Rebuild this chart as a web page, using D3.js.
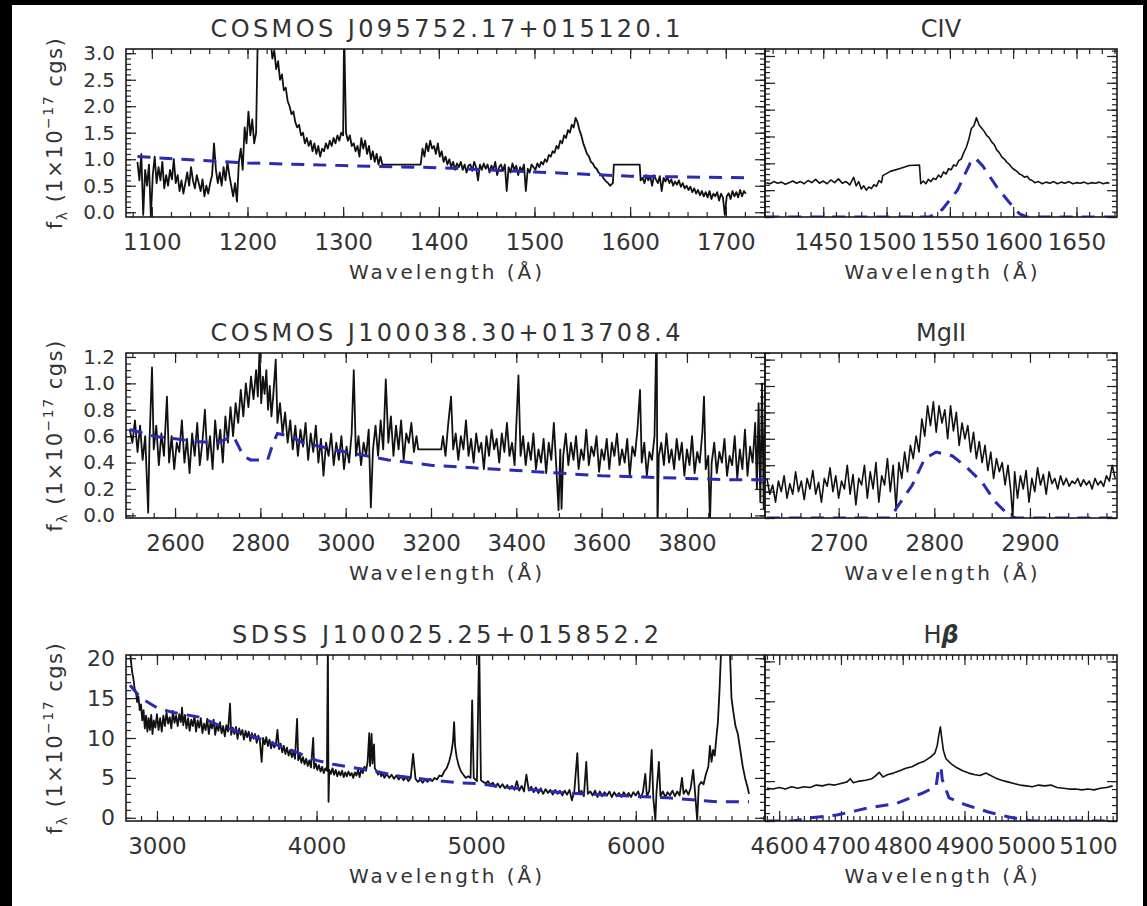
<!DOCTYPE html>
<html>
<head>
<meta charset="utf-8">
<script src="https://cdn.jsdelivr.net/npm/d3@7"></script>
<style>
  body { margin: 0; background: #000; }
  svg text { font-family: "DejaVu Sans", sans-serif; fill: #333; }
</style>
</head>
<body>
<div id="chart"></div>
<script>
// ---- data (wavelength in Å, flux in 1e-17 cgs) ----

// row 1: COSMOS J095752.17+015120.1, full spectrum
const civWideSpec = [
  [1085,0.95],[1087,0.6],[1089,1.1],[1091,-0.05],[1093,0.8],[1095,0.5],[1097,0.9],[1099,-0.08],[1101,0.7],[1103,1.05],
  [1105,0.55],[1107,0.85],[1109,0.6],[1111,0.95],[1113,0.45],[1115,0.7],[1117,0.5],[1119,0.8],[1121,0.62],[1123,1.0],
  [1125,0.55],[1127,0.7],[1129,0.4],[1131,0.6],[1133,0.35],[1135,0.55],[1137,0.75],[1139,0.5],[1141,0.85],[1143,0.6],
  [1145,0.45],[1147,0.7],[1149,0.55],[1151,0.4],[1153,0.62],[1155,0.3],[1157,0.5],[1159,0.35],[1161,0.55],[1163,0.7],
  [1165,1.3],[1167,0.8],[1169,0.55],[1171,0.75],[1173,0.5],[1175,0.85],[1177,0.6],[1179,0.95],[1181,0.7],[1183,0.5],
  [1185,0.3],[1187,0.55],[1189,0.2],[1191,0.95],[1193,1.2],[1195,0.8],[1197,1.6],[1199,1.3],[1201,1.9],[1203,1.45],
  [1205,1.75],[1207,1.3],[1209,1.5],[1211,3.6],[1215,4.0],[1220,3.8],[1224,3.3],[1226,2.9],[1228,3.05],[1230,2.7],
  [1232,2.85],[1234,2.5],[1236,2.6],[1238,2.3],[1240,2.35],[1242,2.1],[1244,2.0],[1246,1.85],[1248,1.9],[1250,1.7],
  [1252,1.6],[1254,1.65],[1256,1.45],[1258,1.5],[1260,1.3],[1262,1.4],[1264,1.25],[1266,1.35],[1268,1.15],[1270,1.3],
  [1272,1.1],[1274,1.25],[1276,1.05],[1278,1.2],[1280,1.15],[1282,1.3],[1284,1.2],[1286,1.35],[1288,1.25],[1290,1.4],
  [1292,1.3],[1294,1.45],[1296,1.35],[1298,1.5],[1300,1.45],[1301,3.5],[1303,1.5],[1305,1.35],[1307,1.45],[1309,1.25],
  [1311,1.3],[1313,1.15],[1315,1.25],[1317,1.05],[1319,1.4],[1321,1.2],[1323,1.35],[1325,1.1],[1327,1.25],[1329,1.0],
  [1331,1.15],[1333,0.95],[1335,1.1],[1337,0.9],[1339,1.05],[1341,0.9],[1381,0.9],[1383,1.2],[1385,1.05],[1387,1.3],
  [1389,1.15],[1391,1.35],[1393,1.2],[1395,1.25],[1397,1.1],[1399,1.3],[1401,1.05],[1403,1.15],[1405,0.95],[1407,1.05],
  [1409,0.9],[1411,1.0],[1413,0.85],[1415,0.95],[1417,0.8],[1419,0.92],[1421,0.85],[1423,0.95],[1425,0.8],[1427,0.9],
  [1429,0.75],[1431,0.88],[1433,0.9],[1435,0.78],[1437,0.95],[1439,0.85],[1441,0.6],[1443,0.9],[1445,0.8],[1447,0.92],
  [1449,0.82],[1451,0.9],[1453,0.75],[1455,0.88],[1457,0.8],[1459,0.95],[1461,0.7],[1463,0.85],[1465,0.9],[1467,0.78],
  [1469,0.9],[1471,0.4],[1473,0.85],[1475,0.75],[1477,0.92],[1479,0.8],[1481,0.88],[1483,0.7],[1485,0.85],[1487,0.78],
  [1489,0.9],[1491,0.4],[1493,0.82],[1495,0.75],[1497,0.9],[1499,0.85],[1501,0.8],[1503,0.92],[1505,0.85],[1507,0.95],
  [1509,0.9],[1511,1.0],[1513,0.95],[1515,1.08],[1517,1.05],[1519,1.15],[1521,1.12],[1523,1.25],[1525,1.2],[1527,1.35],
  [1529,1.3],[1531,1.45],[1533,1.4],[1535,1.55],[1537,1.5],[1539,1.65],[1541,1.6],[1543,1.78],[1545,1.7],[1547,1.55],
  [1549,1.45],[1551,1.3],[1553,1.2],[1555,1.1],[1557,1.05],[1559,0.95],[1561,0.92],[1563,0.85],[1565,0.82],[1567,0.75],
  [1569,0.72],[1571,0.68],[1573,0.62],[1575,0.58],[1577,0.55],[1579,0.5],[1582,0.55],[1583,0.9],[1610,0.9],[1611,0.6],
  [1613,0.65],[1615,0.55],[1617,0.7],[1619,0.6],[1621,0.68],[1623,0.5],[1625,0.7],[1627,0.62],[1629,0.55],[1631,0.68],
  [1633,0.4],[1635,0.65],[1637,0.58],[1639,0.66],[1641,0.55],[1643,0.62],[1645,0.5],[1647,0.58],[1649,0.52],[1651,0.6],
  [1653,0.48],[1655,0.55],[1657,0.45],[1659,0.5],[1661,0.42],[1663,0.48],[1665,0.38],[1667,0.45],[1669,0.35],[1671,0.42],
  [1673,0.32],[1675,0.4],[1677,0.3],[1679,0.38],[1681,0.28],[1683,0.4],[1685,0.25],[1687,0.35],[1689,0.3],[1691,0.38],
  [1693,0.22],[1695,0.35],[1697,0.28],[1699,-0.05],[1701,0.3],[1703,0.36],[1705,0.25],[1707,0.4],[1709,0.3],[1711,0.38],
  [1713,0.28],[1715,0.42],[1717,0.3],[1719,0.4],[1721,0.35]
];
const civWideCont = [
  [1085,1.05],[1150,0.98],[1200,0.93],[1300,0.88],[1400,0.84],[1500,0.76],[1600,0.68],[1720,0.65]
];

// row 1 zoom: CIV
const civLineSpec = [
  [1405,0.64],[1408,0.62],[1411,0.66],[1414,0.63],[1417,0.65],[1420,0.61],[1423,0.64],[1426,0.67],[1429,0.63],[1432,0.66],
  [1435,0.62],[1438,0.68],[1441,0.64],[1444,0.7],[1447,0.63],[1450,0.67],[1453,0.62],[1456,0.69],[1459,0.64],[1462,0.71],
  [1465,0.63],[1468,0.66],[1471,0.6],[1474,0.74],[1476,0.58],[1478,0.66],[1480,0.52],[1482,0.58],[1484,0.5],[1486,0.56],
  [1488,0.53],[1490,0.6],[1492,0.57],[1494,0.68],[1496,0.64],[1497,0.77],[1503,0.85],[1510,0.9],[1518,0.96],[1526,0.97],
  [1527,0.62],[1529,0.67],[1531,0.62],[1533,0.7],[1535,0.66],[1537,0.72],[1539,0.7],[1541,0.78],[1543,0.74],[1545,0.84],
  [1547,0.8],[1549,0.9],[1551,0.88],[1553,0.97],[1555,0.95],[1557,1.05],[1559,1.08],[1561,1.2],[1563,1.3],[1565,1.45],
  [1567,1.65],[1569,1.7],[1571,1.85],[1573,1.72],[1575,1.66],[1577,1.6],[1579,1.52],[1581,1.48],[1583,1.4],[1585,1.35],
  [1587,1.25],[1589,1.2],[1591,1.12],[1593,1.08],[1595,1.02],[1597,0.98],[1599,0.92],[1601,0.88],[1603,0.85],[1605,0.8],
  [1607,0.78],[1609,0.74],[1611,0.76],[1613,0.7],[1615,0.68],[1617,0.64],[1620,0.66],[1623,0.62],[1626,0.65],[1629,0.63],
  [1632,0.66],[1635,0.62],[1638,0.65],[1641,0.63],[1644,0.66],[1647,0.62],[1650,0.64],[1653,0.63],[1656,0.65],[1659,0.62],
  [1662,0.64],[1665,0.63],[1668,0.65],[1671,0.62],[1674,0.64],[1676,0.63]
];
const civLineComp = [
  [1405,0],[1534,0],[1544,0.14],[1556,0.5],[1566,1.0],[1570,1.1],[1576,0.95],[1587,0.56],[1597,0.27],[1605,0.06],[1611,0],[1680,0]
];

// row 2: COSMOS J100038.30+013708.4, full spectrum
const mgWideSpec = [
  [2494,0.65],[2500,0.55],[2506,0.72],[2512,0.48],[2518,0.68],[2524,0.42],[2530,0.6],[2537,0.02],[2540,0.55],[2546,1.12],
  [2550,0.5],[2556,0.68],[2562,0.38],[2568,0.62],[2574,0.45],[2581,0.9],[2586,0.4],[2592,0.6],[2598,0.35],[2604,0.55],
  [2610,0.48],[2616,0.72],[2622,0.4],[2628,0.58],[2634,0.32],[2640,0.62],[2646,0.45],[2652,0.7],[2658,0.38],[2664,0.55],
  [2670,0.8],[2676,0.42],[2682,0.6],[2688,0.35],[2694,0.72],[2700,0.5],[2706,0.65],[2712,0.4],[2718,0.75],[2724,0.55],
  [2730,0.82],[2736,0.6],[2742,0.85],[2748,0.7],[2754,0.95],[2760,0.75],[2766,1.0],[2772,0.82],[2778,1.05],[2784,0.88],
  [2790,1.1],[2794,0.9],[2798,1.25],[2802,0.85],[2806,1.05],[2810,0.92],[2814,1.1],[2818,0.8],[2822,0.98],[2826,0.75],
  [2830,0.9],[2836,1.18],[2840,0.7],[2846,0.85],[2852,0.62],[2858,0.78],[2864,0.55],[2870,0.72],[2876,0.5],[2882,0.68],
  [2888,0.45],[2894,0.65],[2900,0.52],[2906,0.7],[2912,0.42],[2918,0.62],[2924,0.48],[2930,0.68],[2936,0.4],[2942,0.58],
  [2948,0.3],[2954,0.55],[2960,0.45],[2966,0.62],[2972,0.38],[2978,0.55],[2984,0.42],[2990,0.6],[2996,0.35],[3002,0.52],
  [3008,0.4],[3014,0.62],[3019,1.1],[3024,0.45],[3030,0.6],[3036,0.38],[3042,0.55],[3048,0.45],[3054,0.65],[3059,0.06],
  [3064,0.5],[3070,0.68],[3076,0.45],[3082,0.72],[3088,0.5],[3094,1.03],[3100,0.55],[3106,0.75],[3112,0.45],[3118,0.68],
  [3124,0.5],[3130,0.72],[3136,0.42],[3142,0.62],[3148,0.55],[3154,0.7],[3160,0.48],[3166,0.6],[3170,0.5],[3224,0.5],
  [3228,0.6],[3234,0.45],[3240,0.68],[3247,0.9],[3252,0.5],[3258,0.62],[3264,0.42],[3270,0.6],[3276,0.5],[3282,0.72],
  [3288,0.45],[3294,0.58],[3300,0.4],[3306,0.62],[3312,0.48],[3318,0.55],[3324,0.35],[3330,0.6],[3336,0.45],[3342,0.65],
  [3348,0.5],[3354,0.58],[3360,0.4],[3366,0.62],[3372,0.48],[3378,0.7],[3384,0.45],[3390,0.55],[3396,0.38],[3405,1.06],
  [3410,0.45],[3416,0.6],[3422,0.38],[3428,0.55],[3434,0.42],[3440,0.62],[3446,0.35],[3452,0.5],[3458,0.4],[3464,0.58],
  [3470,0.32],[3476,0.55],[3482,0.42],[3488,0.7],[3494,0.35],[3499,0.04],[3503,0.5],[3506,0.05],[3510,0.45],[3516,0.62],
  [3522,0.38],[3528,0.55],[3534,0.42],[3540,0.6],[3546,0.35],[3552,0.5],[3558,0.42],[3564,0.65],[3570,0.38],[3576,0.52],
  [3582,0.45],[3588,0.6],[3594,0.33],[3600,0.5],[3606,0.42],[3612,0.58],[3618,0.35],[3624,0.55],[3630,0.45],[3636,0.62],
  [3642,0.38],[3648,0.5],[3654,0.4],[3660,0.58],[3666,0.3],[3672,0.52],[3678,0.45],[3684,0.65],[3690,0.95],[3694,0.4],
  [3700,0.55],[3706,0.3],[3712,0.48],[3718,0.42],[3724,0.6],[3729,1.5],[3731,-0.1],[3734,0.45],[3740,0.55],[3746,0.38],
  [3752,0.62],[3758,0.4],[3764,0.5],[3770,0.35],[3776,0.58],[3782,0.42],[3788,0.55],[3794,0.3],[3800,0.5],[3806,0.38],
  [3812,0.6],[3818,0.32],[3824,0.48],[3830,0.4],[3836,0.62],[3840,0.9],[3844,0.35],[3850,0.45],[3854,-0.05],[3858,0.4],
  [3864,0.55],[3870,0.32],[3876,0.48],[3882,0.4],[3888,0.58],[3894,0.3],[3900,0.45],[3906,0.38],[3912,0.6],[3918,0.28],
  [3924,0.5],[3930,0.35],[3936,0.65],[3942,0.3],[3948,0.52],[3954,0.4],[3960,0.7],[3964,0.2],[3968,0.85],[3972,0.1],
  [3976,1.0],[3980,0.05],[3984,1.1]
];
const mgWideCont = [
  [2494,0.65],[2550,0.6],[2600,0.58],[2650,0.56],[2700,0.55],[2737,0.6],[2760,0.45],[2777,0.42],[2817,0.42],[2830,0.55],
  [2840,0.62],[2870,0.6],[2900,0.55],[3000,0.48],[3100,0.42],[3200,0.38],[3300,0.36],[3400,0.34],[3500,0.32],[3600,0.3],
  [3700,0.29],[3800,0.28],[3900,0.27],[3984,0.27]
];

// row 2 zoom: MgII
const mgLineSpec = [
  [2625,0.3],[2628,0.18],[2631,0.25],[2634,0.12],[2637,0.28],[2640,0.2],[2643,0.32],[2646,0.15],[2649,0.26],[2652,0.18],
  [2655,0.35],[2658,0.2],[2661,0.28],[2664,0.14],[2667,0.3],[2670,0.22],[2673,0.36],[2676,0.18],[2679,0.27],[2682,0.12],
  [2685,0.3],[2688,0.24],[2691,0.38],[2694,0.2],[2697,0.32],[2700,0.15],[2703,0.28],[2706,0.22],[2709,0.4],[2712,0.18],
  [2715,0.33],[2718,0.1],[2721,0.3],[2724,0.25],[2727,0.4],[2730,0.15],[2733,0.35],[2736,0.22],[2739,0.42],[2742,0.12],
  [2745,0.32],[2748,0.25],[2751,0.45],[2754,0.2],[2757,0.4],[2760,0.08],[2763,0.42],[2766,0.3],[2769,0.5],[2772,0.35],
  [2775,0.55],[2778,0.45],[2781,0.62],[2784,0.5],[2787,0.75],[2790,0.62],[2793,0.85],[2796,0.7],[2799,0.88],[2802,0.65],
  [2805,0.85],[2808,0.72],[2811,0.82],[2814,0.6],[2817,0.85],[2820,0.66],[2823,0.8],[2826,0.55],[2829,0.72],[2832,0.6],
  [2835,0.7],[2838,0.5],[2841,0.65],[2844,0.45],[2847,0.58],[2850,0.42],[2853,0.55],[2856,0.36],[2859,0.5],[2862,0.3],
  [2865,0.45],[2868,0.35],[2871,0.42],[2874,0.25],[2877,0.4],[2880,0.2],[2882,0.0],[2884,0.35],[2887,0.15],[2890,0.32],
  [2893,0.22],[2896,0.36],[2899,0.12],[2902,0.3],[2905,0.2],[2908,0.38],[2911,0.25],[2914,0.33],[2917,0.18],[2920,0.35],
  [2923,0.26],[2926,0.3],[2929,0.22],[2932,0.32],[2935,0.25],[2938,0.3],[2941,0.24],[2944,0.28],[2947,0.26],[2950,0.3],
  [2953,0.24],[2956,0.29],[2959,0.25],[2962,0.28],[2965,0.22],[2968,0.3],[2971,0.25],[2974,0.28],[2977,0.24],[2980,0.32],
  [2983,0.28],[2986,0.4],[2989,0.3]
];
const mgLineComp = [
  [2625,0],[2755,0],[2760,0.07],[2777,0.25],[2790,0.45],[2802,0.5],[2819,0.47],[2833,0.39],[2850,0.27],[2864,0.12],
  [2878,0.02],[2885,0],[2990,0]
];

// row 3: SDSS J100025.25+015852.2, full spectrum
const hbWideSpec = [
  [2831,21],[2838,19.5],[2845,18.2],[2852,17.5],[2860,16.2],[2868,15.8],[2876,14.5],[2884,15.2],[2892,13.5],[2900,14.2],
  [2908,12.2],[2916,13.5],[2924,11.2],[2932,12.8],[2940,10.8],[2948,12.5],[2956,11.0],[2964,12.9],[2972,10.5],[2980,12.2],
  [2990,11.3],[3000,13.0],[3010,11.0],[3020,12.5],[3030,10.8],[3040,12.8],[3050,11.5],[3060,13.2],[3070,11.8],[3080,12.6],
  [3090,11.2],[3100,13.4],[3110,11.9],[3120,12.8],[3130,11.5],[3140,13.0],[3150,12.0],[3157,13.8],[3165,11.6],[3175,12.9],
  [3185,11.2],[3195,12.5],[3205,10.9],[3215,12.3],[3225,11.5],[3235,12.8],[3245,10.8],[3255,12.2],[3265,11.3],[3275,12.5],
  [3285,10.6],[3295,11.8],[3305,11.0],[3315,12.4],[3325,10.5],[3335,11.9],[3345,11.2],[3355,12.3],[3365,10.4],[3375,11.7],
  [3385,10.9],[3395,12.0],[3405,10.6],[3415,11.5],[3425,10.2],[3435,11.6],[3445,10.8],[3458,14.3],[3465,10.4],[3475,11.3],
  [3485,10.5],[3495,11.4],[3505,9.9],[3515,11.2],[3525,10.4],[3535,11.0],[3545,9.8],[3555,10.9],[3565,10.1],[3575,10.8],
  [3585,9.6],[3595,10.6],[3605,9.9],[3615,10.5],[3625,9.4],[3635,10.3],[3645,9.6],[3656,7.0],[3665,10.0],[3675,9.2],
  [3685,10.1],[3695,9.0],[3705,9.8],[3715,8.7],[3725,9.5],[3735,8.8],[3745,9.2],[3755,11.0],[3765,8.6],[3775,9.3],
  [3785,8.2],[3795,9.0],[3805,8.0],[3815,8.8],[3825,7.8],[3835,8.5],[3845,7.6],[3855,8.3],[3865,7.4],[3878,12.4],
  [3885,7.2],[3895,7.9],[3905,6.9],[3915,7.6],[3925,6.7],[3935,7.4],[3945,6.5],[3955,7.2],[3965,6.3],[3979,10.0],
  [3985,6.2],[3995,6.8],[4005,6.0],[4015,6.6],[4025,5.8],[4035,6.4],[4045,5.6],[4055,6.2],[4065,5.9],[4071,22],
  [4075,2.0],[4080,6.0],[4090,5.5],[4100,6.2],[4110,5.4],[4120,6.0],[4130,5.2],[4140,5.8],[4150,5.3],[4160,5.9],
  [4170,5.1],[4180,5.7],[4190,5.2],[4200,5.8],[4210,5.3],[4220,5.6],[4230,5.0],[4240,5.7],[4250,5.3],[4260,6.0],
  [4270,5.1],[4280,6.1],[4290,5.6],[4300,6.4],[4310,5.9],[4320,7.0],[4330,10.6],[4335,6.5],[4345,10.5],[4350,6.8],
  [4360,9.2],[4365,6.2],[4375,5.9],[4385,5.4],[4395,5.8],[4405,5.2],[4415,5.6],[4425,5.0],[4440,5.5],[4455,5.0],
  [4470,5.4],[4485,4.9],[4500,5.3],[4515,4.8],[4530,5.2],[4545,4.7],[4560,5.1],[4575,4.6],[4590,5.0],[4605,8.0],
  [4620,4.9],[4635,4.5],[4650,4.8],[4665,4.4],[4680,4.8],[4695,4.5],[4710,4.9],[4725,4.6],[4740,5.0],[4755,4.8],
  [4770,5.3],[4785,5.2],[4800,5.8],[4815,6.2],[4830,7.0],[4845,8.2],[4855,9.6],[4862,12.0],[4868,9.0],[4878,7.6],
  [4890,6.6],[4905,5.8],[4920,5.4],[4935,5.0],[4950,5.2],[4965,5.0],[4975,14.7],[4985,5.0],[4995,4.8],[5005,4.6],
  [5019,22],[5030,4.7],[5045,4.5],[5060,4.3],[5075,4.6],[5090,4.1],[5105,4.4],[5120,3.9],[5135,4.3],[5150,3.8],
  [5165,4.2],[5180,3.7],[5195,4.1],[5210,3.6],[5225,4.0],[5240,3.5],[5255,4.6],[5270,3.4],[5285,4.0],[5300,3.3],
  [5315,5.4],[5330,3.4],[5345,3.9],[5360,3.2],[5375,3.8],[5390,3.1],[5405,3.7],[5420,3.0],[5435,3.6],[5450,3.1],
  [5465,3.5],[5480,2.9],[5495,3.5],[5510,3.0],[5525,3.4],[5540,2.8],[5555,3.4],[5570,2.9],[5585,3.5],[5600,2.2],
  [5615,3.3],[5634,8.1],[5645,3.0],[5660,3.4],[5675,2.7],[5690,7.0],[5700,3.0],[5716,3.3],[5730,2.8],[5745,3.4],
  [5760,2.6],[5775,3.3],[5790,2.7],[5805,3.2],[5820,2.8],[5835,3.3],[5850,2.6],[5865,3.2],[5880,2.7],[5895,3.1],
  [5910,2.6],[5925,3.2],[5940,2.7],[5955,3.1],[5970,2.6],[5985,3.2],[6000,2.8],[6015,3.3],[6030,2.5],[6045,3.2],
  [6060,5.5],[6070,2.6],[6085,3.4],[6100,8.5],[6110,2.5],[6123,-0.3],[6130,3.2],[6145,7.0],[6155,2.7],[6170,3.3],
  [6185,2.6],[6200,3.2],[6215,2.8],[6230,3.4],[6245,2.7],[6260,3.3],[6275,2.8],[6290,5.0],[6300,3.0],[6315,3.5],
  [6330,2.9],[6345,3.8],[6360,6.0],[6370,3.6],[6385,-0.3],[6395,4.0],[6410,4.5],[6425,4.2],[6440,5.5],[6455,6.4],
  [6465,9.0],[6475,7.0],[6485,8.5],[6495,7.8],[6505,10.0],[6515,12.0],[6525,16.0],[6535,21],[6550,23],[6575,23],
  [6590,21],[6600,15],[6610,13.5],[6625,11.5],[6640,10.5],[6655,8.5],[6670,6.5],[6685,5.0],[6700,3.9],[6710,3.0]
];
const hbWideCont = [
  [2831,16.6],[2900,15.0],[3000,13.8],[3100,13.2],[3270,12.6],[3400,11.5],[3600,10.2],[3800,8.8],[3900,8.0],[4000,7.2],
  [4104,6.7],[4317,6.0],[4524,5.2],[4731,4.7],[4880,4.4],[5005,4.3],[5150,3.9],[5571,3.1],[6000,2.7],[6198,2.5],
  [6400,2.2],[6511,2.0],[6710,2.0]
];

// row 3 zoom: Hbeta
const hbLineSpec = [
  [4580,4.1],[4590,4.0],[4600,4.2],[4610,4.0],[4620,4.3],[4630,4.1],[4640,4.3],[4650,4.2],[4660,4.5],[4670,4.4],
  [4680,4.6],[4690,4.5],[4700,4.7],[4710,4.9],[4715,5.3],[4720,4.8],[4730,5.0],[4740,5.1],[4750,5.3],[4755,5.6],
  [4762,6.1],[4768,5.5],[4775,5.8],[4785,6.0],[4795,6.3],[4805,6.6],[4815,6.8],[4825,7.2],[4835,7.5],[4845,8.0],
  [4852,8.5],[4856,9.5],[4859,11.0],[4861,11.8],[4863,10.5],[4866,8.8],[4870,7.8],[4878,7.2],[4887,6.7],[4897,6.3],
  [4907,6.0],[4917,5.8],[4925,5.7],[4935,6.0],[4940,5.8],[4950,5.4],[4960,5.1],[4970,4.9],[4980,4.7],[4990,4.5],
  [5000,4.4],[5010,4.3],[5020,4.5],[5030,4.4],[5040,4.5],[5050,4.2],[5060,4.1],[5070,4.0],[5080,4.0],[5090,3.9],
  [5100,4.0],[5110,3.9],[5120,4.1],[5130,4.2],[5140,4.4]
];
const hbLineComp = [
  [4580,0],[4622,0],[4650,0.4],[4693,0.75],[4742,1.6],[4790,2.2],[4832,3.5],[4854,4.3],[4858,6.5],[4862,6.8],
  [4864,5.2],[4875,2.9],[4903,2.0],[4940,1.1],[4972,0.5],[5009,0],[5140,0]
];

// tick labels
const civWideTicks = [1100, 1200, 1300, 1400, 1500, 1600, 1700];
const civLineTicks = [1450, 1500, 1550, 1600, 1650];
const mgWideTicks = [2600, 2800, 3000, 3200, 3400, 3600, 3800];
const mgLineTicks = [2700, 2800, 2900];
const hbWideTicks = [3000, 4000, 5000, 6000];
const hbLineTicks = [4600, 4700, 4800, 4900, 5000, 5100];
const civFluxTicks = [0, 0.5, 1.0, 1.5, 2.0, 2.5, 3.0];
const mgFluxTicks = [0, 0.2, 0.4, 0.6, 0.8, 1.0, 1.2];
const hbFluxTicks = [0, 5, 10, 15, 20];

// ---- layout ----
const W = 1147, H = 906;
const leftX0 = 126, midX = 765, rightX1 = 1117;

const rows = [
  {
    top: 49, bottom: 217,
    title: "COSMOS J095752.17+015120.1", titleW: 470,
    yTicks: civFluxTicks, yMinor: 0.1, yFmt: ".1f",
    left: {domain: [1073, 1741], ticks: civWideTicks, minor: 20, y: [-0.09, 3.08], spec: civWideSpec, cont: civWideCont},
    right: {title: "CIV", domain: [1404, 1682], ticks: civLineTicks, minor: 10, y: [0, 3.13], spec: civLineSpec, cont: civLineComp}
  },
  {
    top: 353, bottom: 518,
    title: "COSMOS J100038.30+013708.4", titleW: 470,
    yTicks: mgFluxTicks, yMinor: 0.05, yFmt: ".1f",
    left: {domain: [2485, 3983], ticks: mgWideTicks, minor: 50, y: [-0.02, 1.23], spec: mgWideSpec, cont: mgWideCont},
    right: {title: "MgII", domain: [2623, 2991], ticks: mgLineTicks, minor: 20, y: [0, 1.25], spec: mgLineSpec, cont: mgLineComp}
  },
  {
    top: 655, bottom: 821,
    title: "SDSS J100025.25+015852.2", titleW: 427,
    yTicks: hbFluxTicks, yMinor: 1, yFmt: "d",
    left: {domain: [2806, 6810], ticks: hbWideTicks, minor: 100, y: [-0.4, 20.4], spec: hbWideSpec, cont: hbWideCont},
    right: {title: "Hβ", domain: [4577, 5147], ticks: hbLineTicks, minor: 10, y: [0, 20.8], spec: hbLineSpec, cont: hbLineComp}
  }
];

const svg = d3.select("#chart").append("svg")
  .attr("width", W).attr("height", H);

svg.append("rect").attr("width", W).attr("height", H).attr("fill", "#000");
svg.append("rect").attr("x", 12).attr("y", 5).attr("width", 1131).attr("height", 901).attr("fill", "#fff");

const defs = svg.append("defs");

function minorTicks(domain, step) {
  const start = Math.ceil(domain[0] / step) * step;
  return d3.range(start, domain[1] + step * 1e-6, step).map(v => +v.toFixed(6));
}

function strip(g) {
  g.select(".domain").remove();
  g.selectAll(".tick line").attr("stroke", "#222").attr("stroke-width", 1.2);
}

let clipId = 0;

function drawPanel(row, p, x0, x1, isLeft) {
  const w = x1 - x0, h = row.bottom - row.top;
  const g = svg.append("g").attr("transform", `translate(${x0},${row.top})`);
  const x = d3.scaleLinear().domain(p.domain).range([0, w]);
  const y = d3.scaleLinear().domain(p.y).range([h, 0]);
  const xMinor = minorTicks(p.domain, p.minor);
  const yMinor = minorTicks(p.y, row.yMinor);

  // bottom axis
  g.append("g").attr("transform", `translate(0,${h})`)
    .call(d3.axisBottom(x).tickValues(xMinor).tickSize(-5).tickSizeOuter(0).tickFormat(""))
    .call(strip);
  g.append("g").attr("transform", `translate(0,${h})`)
    .call(d3.axisBottom(x).tickValues(p.ticks).tickSize(-10).tickSizeOuter(0).tickPadding(17).tickFormat(d3.format("d")))
    .call(strip)
    .call(a => a.selectAll("text").attr("font-size", 23).attr("fill", "#333"));
  // top axis
  g.append("g")
    .call(d3.axisTop(x).tickValues(xMinor).tickSize(-5).tickSizeOuter(0).tickFormat(""))
    .call(strip);
  g.append("g")
    .call(d3.axisTop(x).tickValues(p.ticks).tickSize(-10).tickSizeOuter(0).tickFormat(""))
    .call(strip);
  // left axis
  g.append("g")
    .call(d3.axisLeft(y).tickValues(yMinor).tickSize(-5).tickSizeOuter(0).tickFormat(""))
    .call(strip);
  g.append("g")
    .call(d3.axisLeft(y).tickValues(row.yTicks).tickSize(-10).tickSizeOuter(0).tickPadding(11)
      .tickFormat(isLeft ? d3.format(row.yFmt) : ""))
    .call(strip)
    .call(a => a.selectAll("text").attr("font-size", row.yFmt === "d" ? 22 : 20).attr("fill", "#333"));
  // right axis
  g.append("g").attr("transform", `translate(${w},0)`)
    .call(d3.axisRight(y).tickValues(yMinor).tickSize(-5).tickSizeOuter(0).tickFormat(""))
    .call(strip);
  g.append("g").attr("transform", `translate(${w},0)`)
    .call(d3.axisRight(y).tickValues(row.yTicks).tickSize(-10).tickSizeOuter(0).tickFormat(""))
    .call(strip);

  // data
  const id = "clip" + (clipId++);
  defs.append("clipPath").attr("id", id)
    .append("rect").attr("x", 0).attr("y", 0).attr("width", w).attr("height", h);
  const plot = g.append("g").attr("clip-path", `url(#${id})`);
  const line = d3.line().x(d => x(d[0])).y(d => y(d[1]));

  plot.append("path").datum(p.spec)
    .attr("d", line)
    .attr("fill", "none")
    .attr("stroke", "#111")
    .attr("stroke-width", isLeft ? 1.8 : 1.6)
    .attr("stroke-linejoin", "round");
  plot.append("path").datum(p.cont)
    .attr("d", line)
    .attr("fill", "none")
    .attr("stroke", "#2a2ab4")
    .attr("stroke-width", 3)
    .attr("stroke-dasharray", "13,9");

  // frame
  g.append("rect").attr("width", w).attr("height", h)
    .attr("fill", "none").attr("stroke", "#1a1a1a").attr("stroke-width", 1.6);

  // x label
  g.append("text")
    .attr("x", w / 2).attr("y", h + 62)
    .attr("text-anchor", "middle")
    .attr("font-size", 20)
    .attr("fill", "#222")
    .attr("textLength", 193).attr("lengthAdjust", "spacing")
    .text("Wavelength (Å)");
}

rows.forEach(row => {
  drawPanel(row, row.left, leftX0, midX, true);
  drawPanel(row, row.right, midX, rightX1, false);

  // titles
  svg.append("text")
    .attr("x", (leftX0 + midX) / 2).attr("y", row.top - 12)
    .attr("text-anchor", "middle")
    .attr("font-size", 24).attr("fill", "#444")
    .attr("textLength", row.titleW).attr("lengthAdjust", "spacing")
    .text(row.title);

  const rt = svg.append("text")
    .attr("x", (midX + rightX1) / 2).attr("y", row.top - 12)
    .attr("text-anchor", "middle")
    .attr("font-size", 24).attr("fill", "#444");
  if (row.right.title === "Hβ") {
    rt.append("tspan").text("H");
    rt.append("tspan").attr("font-weight", "bold").attr("font-style", "italic").text("β");
  } else {
    rt.text(row.right.title);
  }

  // y label
  const yl = svg.append("text")
    .attr("transform", `translate(62,${(row.top + row.bottom) / 2}) rotate(-90)`)
    .attr("text-anchor", "middle")
    .attr("font-size", 21).attr("fill", "#444")
    .attr("letter-spacing", 1.5);
  yl.append("tspan").text("f");
  yl.append("tspan").attr("font-size", 14).attr("dy", 5).text("λ");
  yl.append("tspan").attr("dy", -5).text(" (1×10");
  yl.append("tspan").attr("font-size", 14).attr("dy", -9).text("−17");
  yl.append("tspan").attr("dy", 9).text("  cgs)");
});
</script>
</body>
</html>
